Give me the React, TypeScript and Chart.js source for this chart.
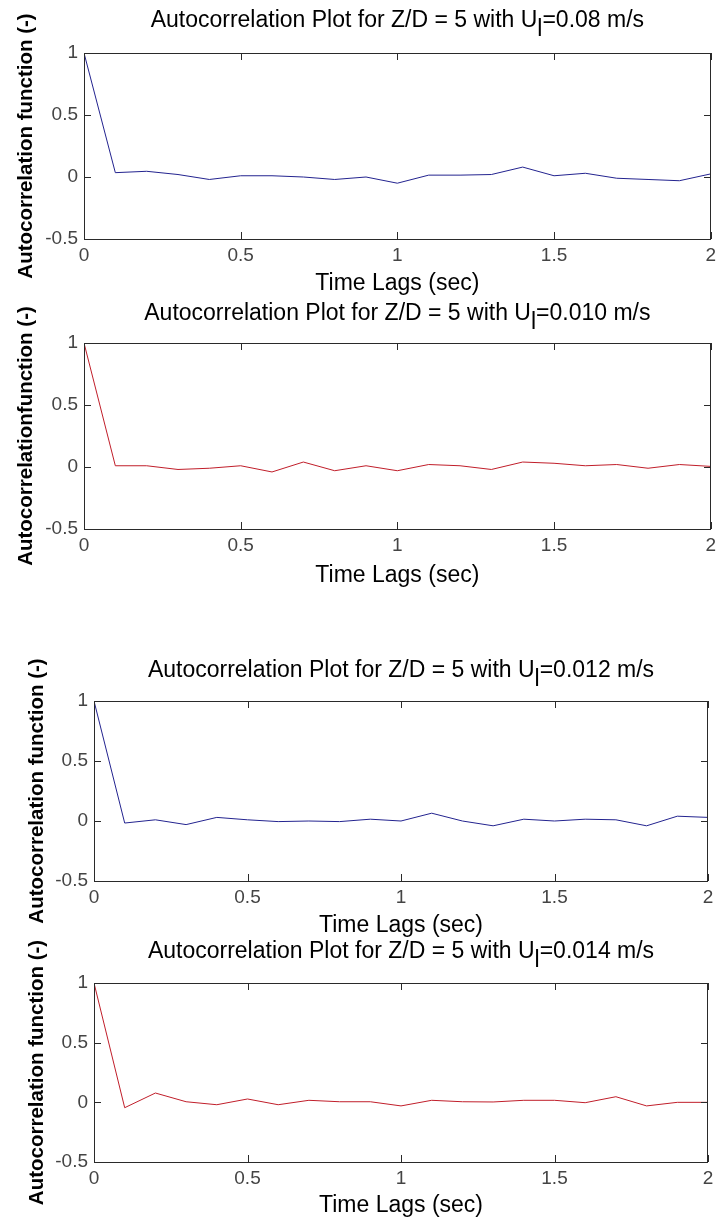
import React, { useEffect, useRef } from "react";
import { Chart, registerables } from "chart.js";

Chart.register(...registerables);

// ---------- data ----------
const lags = [0, 0.1, 0.2, 0.3, 0.4, 0.5, 0.6, 0.7, 0.8, 0.9, 1.0, 1.1, 1.2, 1.3, 1.4, 1.5, 1.6, 1.7, 1.8, 1.9, 2.0];

const acfU008 = [1, 0.035, 0.046, 0.02, -0.02, 0.01, 0.01, 0.0, -0.02, 0.0, -0.05, 0.015, 0.015, 0.02, 0.08, 0.01, 0.03, -0.01, -0.02, -0.03, 0.025];
const acfU010 = [1, 0.01, 0.01, -0.02, -0.01, 0.01, -0.04, 0.04, -0.03, 0.01, -0.03, 0.02, 0.01, -0.02, 0.04, 0.03, 0.01, 0.02, -0.01, 0.02, 0.005];
const acfU012 = [1, -0.017, 0.01, -0.03, 0.03, 0.01, -0.005, 0.0, -0.005, 0.015, 0.0, 0.065, 0.0, -0.04, 0.015, 0.0, 0.015, 0.01, -0.04, 0.04, 0.03];
const acfU014 = [1, -0.045, 0.078, 0.005, -0.02, 0.028, -0.02, 0.017, 0.005, 0.005, -0.03, 0.017, 0.005, 0.003, 0.017, 0.017, -0.003, 0.047, -0.03, 0.0, 0.0];

const xTicks = [0, 0.5, 1, 1.5, 2];
const yTicks = [-0.5, 0, 0.5, 1];

const velocityLabels = ["0.08", "0.010", "0.012", "0.014"];
const yAxisTitles = [
  "Autocorrelation function (-)",
  "Autocorrelationfunction (-)",
  "Autocorrelation function (-)",
  "Autocorrelation function (-)",
];
const xAxisTitle = "Time Lags (sec)";
const seriesList = [acfU008, acfU010, acfU012, acfU014];

// ---------- layout / style ----------
const W = 721;
const H = 1220;
const FONT = "'Liberation Sans', Arial, Helvetica, sans-serif";
const BLUE = "#23238f";
const RED = "#c01e2a";
const lineColors = [BLUE, RED, BLUE, RED];
const X_AXIS_H = 40;

const panels = [
  { l: 84, r: 720, t: 53, b: 239, titleBase: 27, xLabBase: 290, yLabX: 26 },
  { l: 84, r: 720, t: 343, b: 529, titleBase: 320, xLabBase: 582, yLabX: 26 },
  { l: 94, r: 708, t: 701, b: 881, titleBase: 677, xLabBase: 932, yLabX: 37 },
  { l: 94, r: 708, t: 983, b: 1162, titleBase: 958, xLabBase: 1212, yLabX: 37 },
];

const matlabPlugin = {
  id: "matlabAxes",
  afterDraw(chart: any, _args: any, opts: any) {
    const { ctx, chartArea } = chart;
    const xs = chart.scales.x;
    const ys = chart.scales.y;
    const left = Math.round(chartArea.left);
    const right = Math.round(chartArea.right);
    const top = Math.round(chartArea.top);
    const bottom = Math.round(chartArea.bottom);
    ctx.save();
    ctx.strokeStyle = "#2a2a2a";
    ctx.lineWidth = 1;
    ctx.strokeRect(left + 0.5, top + 0.5, right - left - 1, bottom - top);
    const tl = 7;
    ctx.beginPath();
    xTicks.forEach((v) => {
      const px = Math.round(xs.getPixelForValue(v)) + 0.5;
      ctx.moveTo(px, bottom);
      ctx.lineTo(px, bottom - tl);
      ctx.moveTo(px, top);
      ctx.lineTo(px, top + tl);
    });
    yTicks.forEach((v) => {
      const py = Math.round(ys.getPixelForValue(v)) + 0.5;
      ctx.moveTo(left, py);
      ctx.lineTo(left + tl, py);
      ctx.moveTo(right, py);
      ctx.lineTo(right - tl, py);
    });
    ctx.stroke();

    const cx = (chartArea.left + chartArea.right) / 2;
    // title with subscript l
    ctx.fillStyle = "#000";
    ctx.font = `23px ${FONT}`;
    ctx.textBaseline = "alphabetic";
    ctx.textAlign = "left";
    const p1 = "Autocorrelation Plot for Z/D = 5 with U";
    const sub = "l";
    const p2 = `=${opts.velocity} m/s`;
    const w1 = ctx.measureText(p1).width;
    const ws = ctx.measureText(sub).width;
    const w2 = ctx.measureText(p2).width;
    let x0 = cx - (w1 + ws + w2) / 2;
    const base = opts.titleBase;
    ctx.fillText(p1, x0, base);
    x0 += w1;
    ctx.fillText(sub, x0, base + 9);
    x0 += ws;
    ctx.fillText(p2, x0, base);

    // x axis label
    ctx.textAlign = "center";
    ctx.fillText(xAxisTitle, cx, opts.xLabBase);

    // y axis label
    ctx.font = `bold 20.5px ${FONT}`;
    ctx.textBaseline = "middle";
    ctx.translate(opts.yLabX, (chartArea.top + chartArea.bottom) / 2);
    ctx.rotate(-Math.PI / 2);
    ctx.fillText(opts.yTitle, 0, 0);
    ctx.restore();
  },
};

export default function App() {
  const refs = [useRef<HTMLCanvasElement>(null), useRef<HTMLCanvasElement>(null), useRef<HTMLCanvasElement>(null), useRef<HTMLCanvasElement>(null)];

  useEffect(() => {
    const charts: Chart[] = [];
    panels.forEach((p, i) => {
      const canvas = refs[i].current;
      if (!canvas) return;
      const data = lags.map((x, k) => ({ x, y: seriesList[i][k] }));
      const chart = new Chart(canvas, {
        type: "line",
        data: {
          datasets: [
            {
              data,
              borderColor: lineColors[i],
              borderWidth: 1,
              pointRadius: 0,
              tension: 0,
              fill: false,
            },
          ],
        },
        options: {
          responsive: false,
          animation: false,
          devicePixelRatio: 1,
          events: [],
          layout: {
            padding: { left: 0, right: W - p.r, top: p.t, bottom: H - p.b - X_AXIS_H },
          },
          plugins: {
            legend: { display: false },
            tooltip: { enabled: false },
            title: { display: false },
            matlabAxes: {
              velocity: velocityLabels[i],
              yTitle: yAxisTitles[i],
              titleBase: p.titleBase,
              xLabBase: p.xLabBase,
              yLabX: p.yLabX,
            },
          } as any,
          scales: {
            x: {
              type: "linear",
              min: 0,
              max: 2,
              grid: { display: false, drawTicks: false },
              border: { display: false },
              afterBuildTicks: (s: any) => {
                s.ticks = xTicks.map((v) => ({ value: v }));
              },
              afterFit: (s: any) => {
                s.height = X_AXIS_H;
              },
              ticks: {
                autoSkip: false,
                maxRotation: 0,
                padding: 5,
                color: "#444444",
                font: { family: FONT, size: 19 },
                callback: (v: any) => String(v),
              },
            },
            y: {
              type: "linear",
              min: -0.5,
              max: 1,
              grid: { display: false, drawTicks: false },
              border: { display: false },
              afterBuildTicks: (s: any) => {
                s.ticks = yTicks.map((v) => ({ value: v }));
              },
              afterFit: (s: any) => {
                s.width = p.l;
              },
              ticks: {
                autoSkip: false,
                padding: 6,
                color: "#444444",
                font: { family: FONT, size: 19 },
                callback: (v: any) => String(v),
              },
            },
          },
        },
        plugins: [matlabPlugin],
      });
      charts.push(chart);
    });
    return () => charts.forEach((c) => c.destroy());
  }, []);

  return (
    <div style={{ position: "absolute", top: 0, left: 0, width: W, height: H, background: "#fff", overflow: "hidden" }}>
      {refs.map((r, i) => (
        <canvas
          key={i}
          ref={r}
          width={W}
          height={H}
          style={{ position: "absolute", top: 0, left: 0, width: W, height: H }}
        />
      ))}
    </div>
  );
}
